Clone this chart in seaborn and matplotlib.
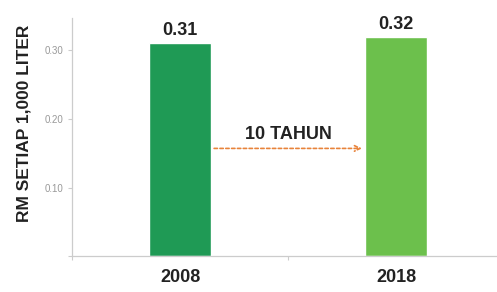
import pandas as pd
import seaborn as sns
from matplotlib import pyplot as plt

years = ["2008", "2018"]
values = [0.31, 0.32]
colors = ["#1f9a55", "#6cc04c"]
arrow_label = "10 TAHUN"
arrow_y = 0.157

df = pd.DataFrame({"year": years, "value": values})

sns.set_style("white")
plt.rcParams["font.family"] = ["Liberation Sans", "DejaVu Sans"]
fig = plt.figure(figsize=(4.97, 2.92), dpi=100)
ax = fig.add_axes([0.145, 0.123, 0.855, 0.815])

sns.barplot(data=df, x="year", y="value", hue="year", palette=colors,
            width=0.29, legend=False, ax=ax, saturation=1)

for i, v in enumerate(values):
    ax.text(i, v + 0.006, f"{v:.2f}", ha="center", va="bottom",
            fontsize=13, fontweight="bold", color="#222222")

# dashed arrow between the bars
half = 0.145
ax.annotate("", xy=(1 - half, arrow_y), xytext=(half, arrow_y),
            arrowprops=dict(arrowstyle="->", color="#e8833a", lw=1.2,
                            linestyle=(0, (2, 1.5))))
ax.text(0.5, arrow_y + 0.008, arrow_label, ha="center", va="bottom",
        fontsize=13, fontweight="bold", color="#222222")

ax.set_ylim(0, 0.347)
ax.set_xlim(-0.5, 1.468)
ax.set_yticks([0, 0.10, 0.20, 0.30])
ax.set_yticklabels(["", "0.10", "0.20", "0.30"], fontsize=7, color="#999999")
ax.tick_params(axis="y", left=True, length=3, color="#cccccc", width=0.8, pad=3)
ax.set_xticks([0, 1])
ax.set_xticklabels(years, fontsize=13, fontweight="bold", color="#222222")
ax.set_xticks([-0.5, 0.5], minor=True)
ax.tick_params(axis="x", which="major", length=0, pad=9)
ax.tick_params(axis="x", which="minor", bottom=True, length=3,
               color="#cccccc", width=0.8)
ax.set_xlabel("")
ax.set_ylabel("RM SETIAP 1,000 LITER", fontsize=12.5, fontweight="bold",
              color="#222222")
ax.yaxis.set_label_coords(-0.095, 0.56)

for s in ["top", "right"]:
    ax.spines[s].set_visible(False)
for s in ["left", "bottom"]:
    ax.spines[s].set_color("#cccccc")
    ax.spines[s].set_linewidth(0.9)

fig.savefig("out.png", dpi=100)
